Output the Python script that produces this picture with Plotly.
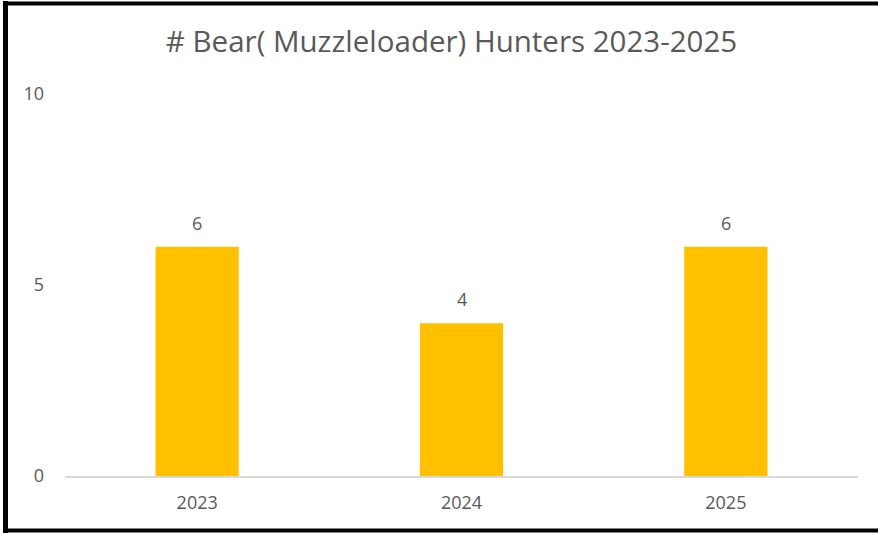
import plotly.graph_objects as go

# Season data
years = ["2023", "2024", "2025"]
hunters = [6, 4, 6]
y_ticks = [0, 5, 10]

TEXT_GREY = "#595959"
BAR_GOLD = "#FFC000"
FONT = "Open Sans, sans-serif"

fig = go.Figure(
    go.Bar(
        x=years,
        y=hunters,
        marker=dict(color=BAR_GOLD, line=dict(width=0)),
        width=0.315,
        hoverinfo="x+y",
    )
)

# value labels above each bar (category index positions)
for i, v in enumerate(hunters):
    fig.add_annotation(
        x=i, y=v, text=str(v), showarrow=False,
        yanchor="bottom", yshift=10,
        font=dict(size=18, color=TEXT_GREY, family=FONT),
    )

# plot area spans px 65..858 horizontally and 94..476 vertically
L, R, T, B = 65, 20, 94, 57
W, H = 878, 533
pw, ph = W - L - R, H - T - B


def px_x(p):
    return (p - L) / pw


def px_y(p):
    return (H - B - p) / ph


# black frame around the chart (left, top, bottom edges)
shapes = [
    dict(type="line", xref="paper", yref="paper",
         x0=px_x(5.5), x1=px_x(5.5), y0=px_y(1), y1=px_y(533),
         line=dict(color="#000", width=5)),
    dict(type="line", xref="paper", yref="paper",
         x0=px_x(3), x1=px_x(890), y0=px_y(3.5), y1=px_y(3.5),
         line=dict(color="#000", width=4)),
    dict(type="line", xref="paper", yref="paper",
         x0=px_x(3), x1=px_x(890), y0=px_y(530.5), y1=px_y(530.5),
         line=dict(color="#000", width=4)),
]

fig.update_layout(
    width=W,
    height=H,
    margin=dict(l=L, r=R, t=T, b=B),
    paper_bgcolor="white",
    plot_bgcolor="white",
    showlegend=False,
    title=dict(
        text="# Bear( Muzzleloader) Hunters 2023-2025",
        x=451.5 / W,
        xanchor="center",
        y=1 - 42 / H,
        yanchor="middle",
        font=dict(size=29.5, color=TEXT_GREY, family=FONT),
    ),
    xaxis=dict(
        type="category",
        range=[-0.5, len(years) - 0.5],
        showgrid=False,
        showline=True,
        linecolor="#D9D9D9",
        linewidth=1.5,
        ticks="",
        tickfont=dict(size=18, color=TEXT_GREY, family=FONT),
        ticklabelstandoff=10,
    ),
    yaxis=dict(
        range=[0, 10],
        tickvals=y_ticks,
        showgrid=False,
        showline=False,
        zeroline=False,
        ticks="",
        tickfont=dict(size=18, color=TEXT_GREY, family=FONT),
        ticklabelstandoff=20,
    ),
    shapes=shapes,
)

fig.write_html("out.html")
